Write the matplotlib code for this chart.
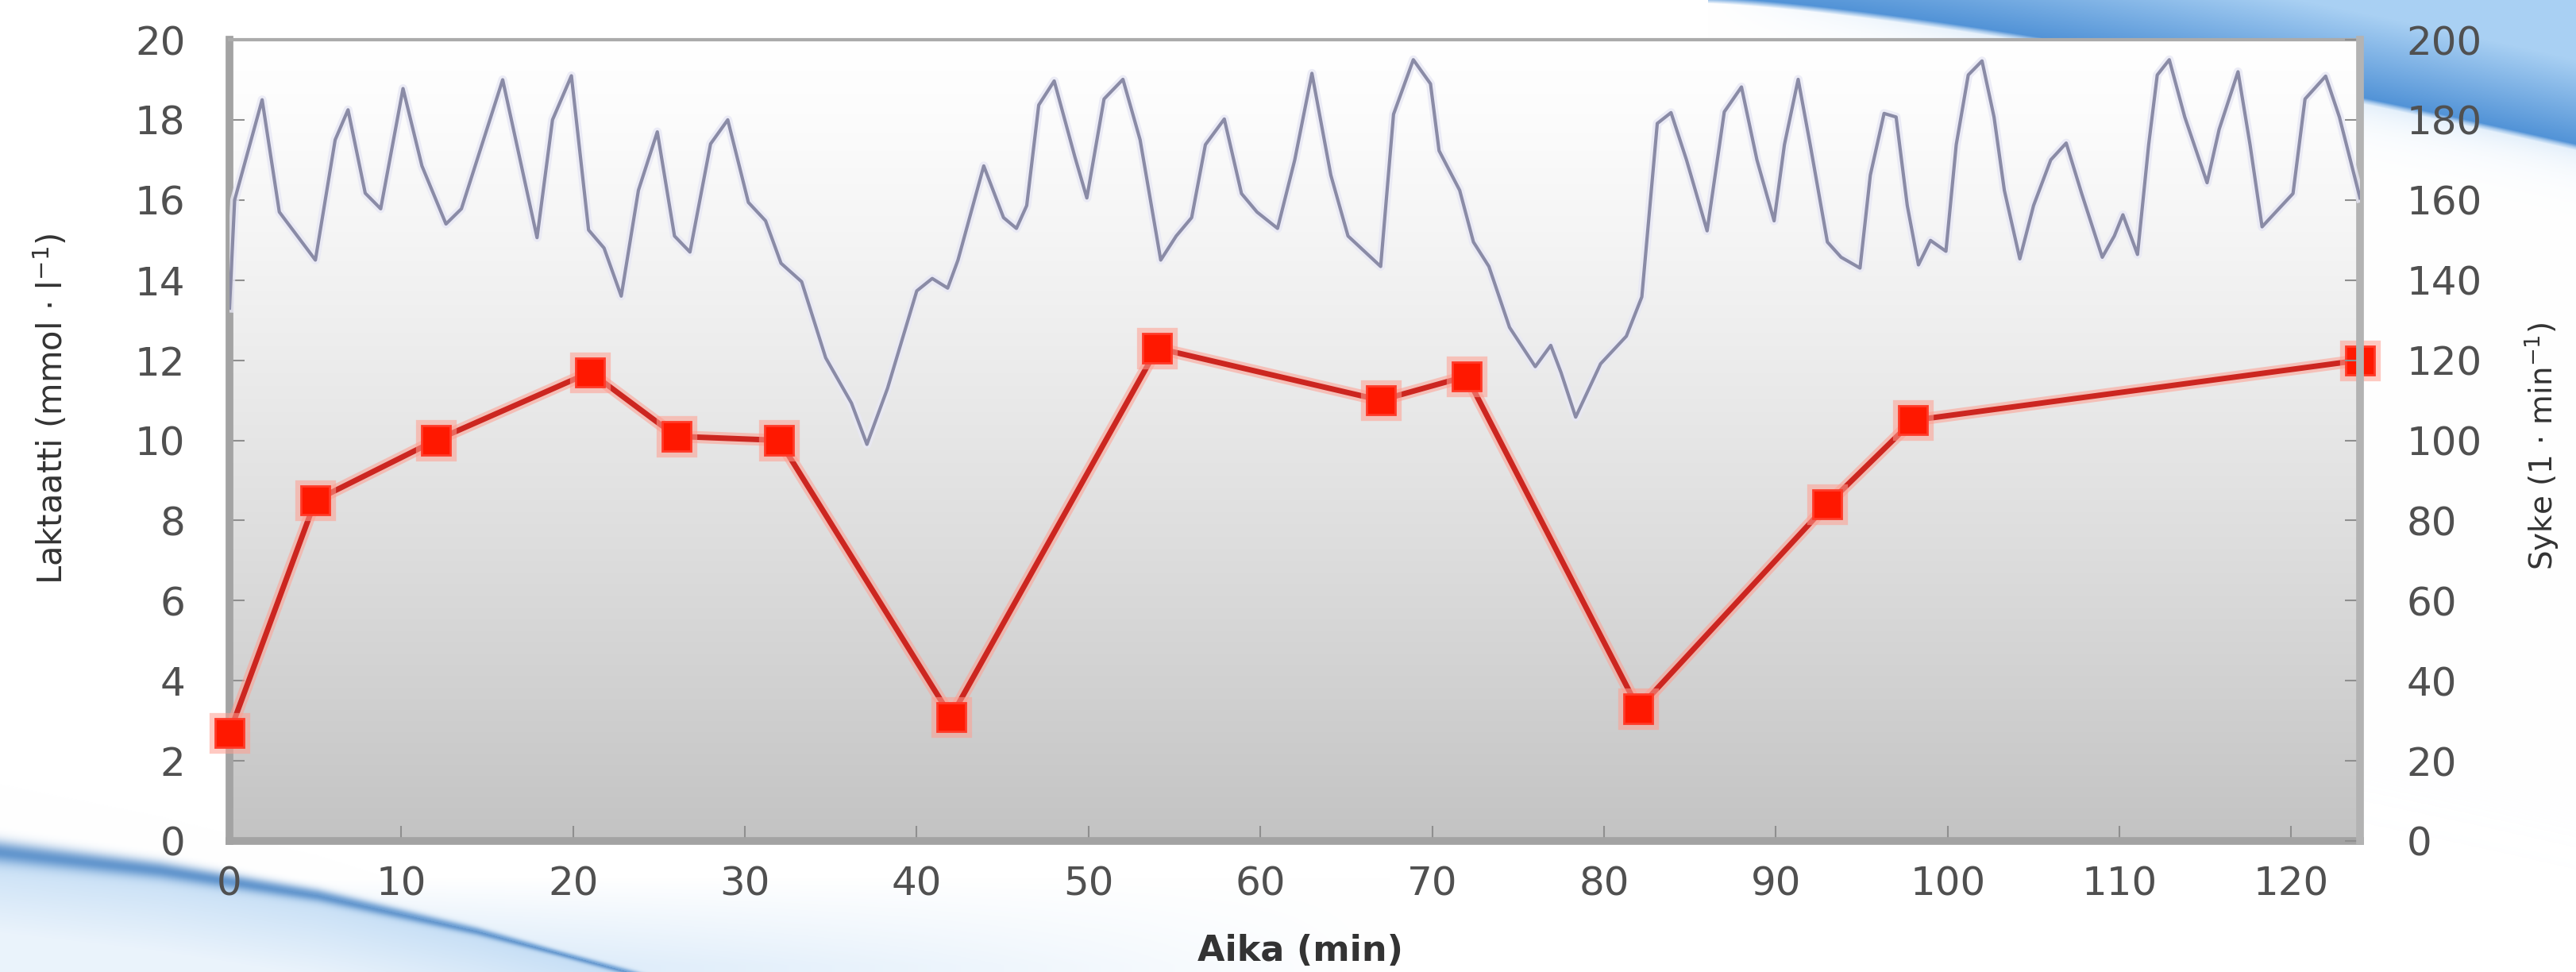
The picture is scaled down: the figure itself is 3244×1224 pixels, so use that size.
import numpy as np
import matplotlib
matplotlib.use("Agg")
import matplotlib.pyplot as plt
import matplotlib.patheffects as pe
from matplotlib.colors import to_rgb

# ---------------- data ----------------
lac_time = [0, 5, 12, 21, 26, 32, 42, 54, 67, 72, 82, 93, 98, 124]
lac_val = [2.7, 8.5, 10.0, 11.7, 10.1, 10.0, 3.1, 12.3, 11.0, 11.6, 3.3, 8.4, 10.5, 12.0]

hr_time = [0.0, 0.3, 1.9, 2.9, 5.0, 6.15, 6.9, 7.9, 8.8, 10.1, 11.2, 12.6, 13.5, 15.9,
           17.9, 18.8, 19.9, 20.9, 21.8, 22.8, 23.8, 24.9, 25.9, 26.8, 28.0, 29.0,
           30.2, 31.2, 32.1, 33.3, 34.7, 36.2, 37.1, 38.3, 40.0, 40.9, 41.8, 42.4,
           43.9, 45.05, 45.8, 46.4, 47.1, 48.0, 49.2, 49.9, 50.9, 52.0, 53.0, 54.2,
           55.1, 56.0, 56.8, 57.9, 58.9, 59.8, 61.0, 62.0, 63.0, 64.1, 65.1, 67.0,
           67.75, 68.9, 69.9, 70.4, 71.6, 72.4, 73.3, 74.5, 76.0, 76.9, 77.5, 78.35,
           79.8, 81.3, 82.2, 83.1, 83.9, 84.8, 86.0, 87.0, 88.0, 88.9, 89.9, 90.5,
           91.3, 92.0, 93.0, 93.8, 94.9, 95.5, 96.3, 97.0, 97.65, 98.3, 99.0, 99.9,
           100.5, 101.2, 102.0, 102.7, 103.3, 104.2, 105.0, 106.0, 106.9, 107.8,
           109.0, 109.7, 110.2, 111.05, 111.7, 112.2, 112.9, 113.8, 115.1, 115.8,
           116.9, 117.6, 118.3, 119.1, 120.1, 120.8, 122.0, 122.8, 124.0]
hr_val = [133, 160, 185, 157, 145, 175, 182.5, 161.7, 157.8, 187.8, 168.5, 154, 157.8, 190,
          150.6, 180, 191, 152.5, 148, 136, 162.4, 177, 151, 147, 174, 180,
          159.4, 154.8, 144.2, 139.6, 120.6, 109.3, 99, 113, 137.3, 140.4, 138, 145,
          168.5, 155.6, 152.9, 158.6, 183.7, 189.7, 170.8, 160.5, 185.2, 190.1, 175, 145,
          151, 155.6, 173.8, 180.2, 161.6, 157, 152.9, 170, 191.6, 166.2, 151, 143.4,
          181.4, 195, 189, 172.3, 162.4, 149.5, 143.4, 128.2, 118.4, 123.7, 116.9, 105.8,
          119.1, 126, 135.8, 179.1, 181.8, 170, 152.3, 182, 188.2, 170, 154.8, 173.8,
          190.1, 173.8, 149.5, 145.7, 143, 166.2, 181.6, 180.7, 158.6, 143.8, 149.9, 147.2,
          173.8, 191.2, 194.7, 180.7, 162.4, 145.3, 158.6, 170, 174.2, 161.6,
          145.7, 151, 156.3, 146.4, 173.8, 191.2, 195, 180.7, 164.3, 177.6,
          192, 173.8, 153.3, 157, 161.6, 185.2, 190.9, 180.7, 160.5]

x_ticks = list(range(0, 121, 10))
left_ticks = list(range(0, 21, 2))
right_ticks = list(range(0, 201, 20))

# ---------------- figure ----------------
W, H = 3244, 1224
fig = plt.figure(figsize=(W / 100, H / 100), dpi=100)
fig.patch.set_facecolor("white")

# decorative background (template swooshes)
Yg, Xg = np.mgrid[0:H, 0:W].astype(float)
bg = np.ones((H, W, 3))


def blend(color, alpha):
    c = np.array(to_rgb(color))
    a = np.clip(alpha, 0, 1)[..., None]
    bg[:] = bg * (1 - a) + c * a


# top-right swoosh
s = np.clip((Xg - 2150) / 1094.0, 0, None)
low = 185 * s ** 1.35
d = low - Yg
t = np.clip(d / 110.0, 0, 1)[..., None]
dark = np.array(to_rgb("#4f91d6"))
light = np.array(to_rgb("#a9d0f3"))
col = dark * (1 - t) + light * t
edge = (np.clip((d + 4) / 8.0, 0, 1) * (Xg > 2150))[..., None]
bg[:] = bg * (1 - edge) + col * edge
halo = 0.35 * np.exp(-np.clip(-d, 0, None) / 25.0) * (d < 0) * np.clip(s * 3, 0, 1)
blend("#a6cdf2", halo)

# bottom-left swoosh
cx = [0, 200, 400, 600, 800, 1000]
cy = [1072, 1095, 1127, 1172, 1226, 1290]
c = np.interp(Xg[0], cx, cy)[None, :]
d2 = Yg - c
below = np.clip((d2 + 3) / 6.0, 0, 1) * np.clip(1 - d2 / 160.0, 0.35, 1)
blend("#b7d6f3", below * 0.8)
sig = np.clip(14 - Xg / 70.0, 4, None)
blend("#4f88c6", 0.85 * np.exp(-(d2 / sig) ** 2))
glow = 0.6 * np.clip((Yg - 1105) / 110.0, 0, 1) * np.clip(1 - Xg / 1750.0, 0, 1) * (d2 < 0)
blend("#9fc9f0", glow)

ax_bg = fig.add_axes([0, 0, 1, 1], zorder=0)
ax_bg.imshow(bg, extent=[0, 1, 0, 1], aspect="auto", interpolation="bilinear")
ax_bg.set_axis_off()

# main axes
x0, x1 = 289 / W, 2972 / W
y0, y1 = (H - 1059) / H, (H - 50) / H
ax = fig.add_axes([x0, y0, x1 - x0, y1 - y0], zorder=1)
ax.patch.set_alpha(0)

sgrad = np.linspace(0, 1, 300)
g = 1 - 0.235 * sgrad ** 1.25
grad = np.stack([g, g, g], axis=-1)[:, None, :]
ax.imshow(grad, extent=[0, 124, 0, 20], aspect="auto", zorder=0, interpolation="bilinear")

ax.plot(lac_time, lac_val, color="#cc2620", lw=5, marker="s", ms=26,
        mfc="#ff1800", mec="#ff3a28", mew=2, zorder=5, clip_on=False,
        path_effects=[pe.Stroke(linewidth=11, foreground="#ff9e90", alpha=0.55), pe.Normal()])

ax.set_xlim(0, 124)
ax.set_ylim(0, 20)
ax.set_xticks(x_ticks)
ax.set_yticks(left_ticks)

ax2 = ax.twinx()
ax2.plot(hr_time, hr_val, color="#8a8ba6", lw=3.0, zorder=4, solid_joinstyle="round",
         path_effects=[pe.Stroke(linewidth=8, foreground="#e8e8f5", alpha=0.8), pe.Normal()])
ax2.set_ylim(0, 200)
ax2.set_yticks(right_ticks)

tick_kw = dict(direction="in", length=14, width=1.5, color="#8f8f8f",
               labelcolor="#505050", labelsize=36)
ax.tick_params(axis="x", pad=22, **tick_kw)
ax.tick_params(axis="y", pad=40, **tick_kw)
ax.tick_params(top=False, right=False)
ax2.tick_params(axis="y", pad=42, **tick_kw)

for name, sp in ax.spines.items():
    if name == "right":
        sp.set_visible(False)
    elif name == "top":
        sp.set_color("#ababab")
        sp.set_linewidth(3)
    else:
        sp.set_color("#a3a3a3")
        sp.set_linewidth(7)
for name, sp in ax2.spines.items():
    if name == "right":
        sp.set_color("#b3b3b3")
        sp.set_linewidth(7)
    else:
        sp.set_visible(False)

fig.text(65 / W, 1 - 515 / H, "Laktaatti (mmol · l$^{-1}$)", rotation=90,
         ha="center", va="center", fontsize=30, color="#333333")
fig.text(3200 / W, 1 - 562 / H, "Syke (1 · min$^{-1}$)", rotation=90,
         ha="center", va="center", fontsize=28, color="#333333")
fig.text(1637 / W, 1 - 1198 / H, "Aika (min)", ha="center", va="center",
         fontsize=32, fontweight="bold", color="#333333")

fig.savefig("out.png", dpi=100)
